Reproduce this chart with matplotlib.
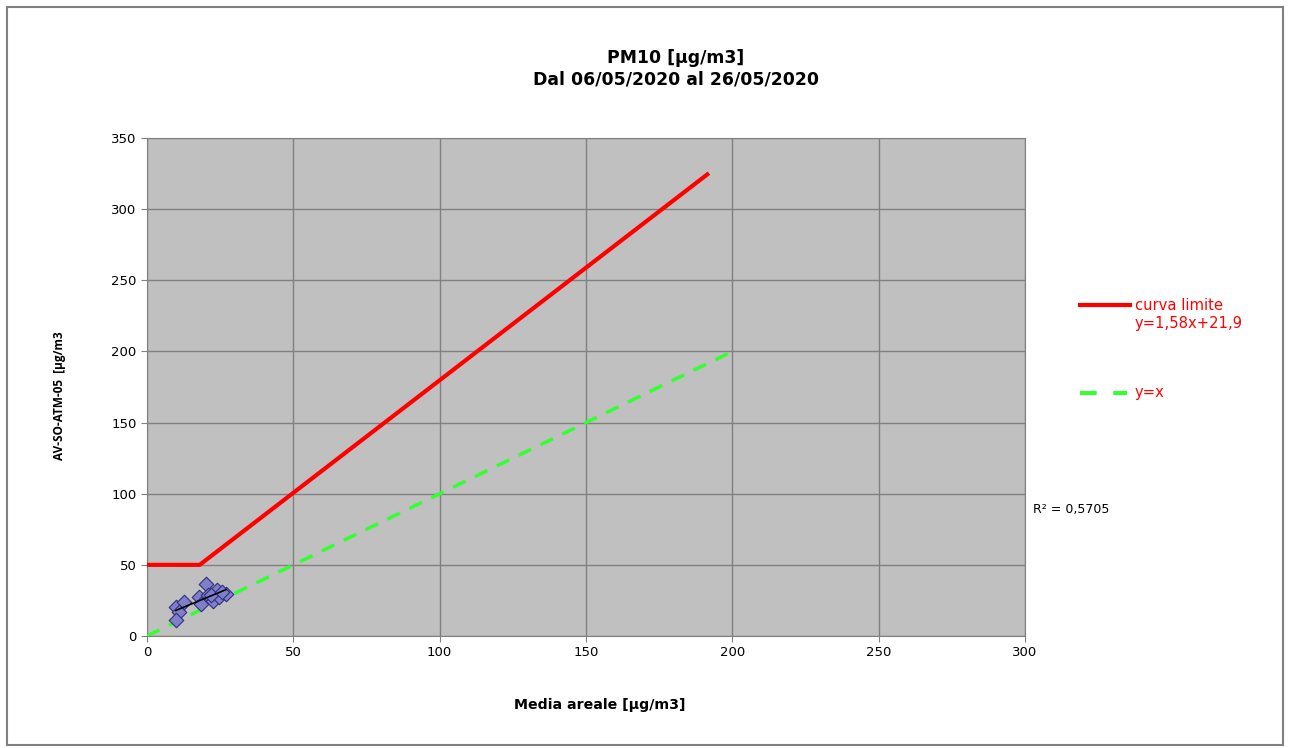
import numpy as np
import matplotlib
matplotlib.use("Agg")
import matplotlib.pyplot as plt
from matplotlib.patches import Rectangle
from matplotlib.lines import Line2D

plt.rcParams['font.family'] = ['DejaVu Sans']

# Data
media_areale = [20.2, 9.8, 12.8, 11.0, 9.8, 17.9, 18.3, 20.9, 24.0, 22.4, 24.7, 27.0, 22.0, 25.5]
av_so_atm05 = [36.3, 20.6, 23.7, 17.1, 11.0, 27.6, 22.3, 28.8, 32.3, 24.6, 27.2, 29.5, 29.0, 31.0]
limite_x = [0, 18, 192]
limite_y = [50, 50, 325.3]
yx_x = [0, 200]
yx_y = [0, 200]
r2_text = "R² = 0,5705"

fig = plt.figure(figsize=(12.9, 7.48), dpi=100)
W, H = 1290, 748
ax = fig.add_axes([147 / W, 1 - 636 / H, (1025 - 147) / W, (636 - 138) / H])
ax.set_facecolor('#C0C0C0')
ax.set_xlim(0, 300)
ax.set_ylim(0, 350)
ax.set_xticks(range(0, 301, 50))
ax.set_yticks(range(0, 351, 50))
ax.grid(True, color='#808080', linewidth=1)
ax.set_axisbelow(True)
for s in ax.spines.values():
    s.set_color('#808080')
ax.tick_params(axis='both', colors='#808080', labelcolor='black', labelsize=9.5, length=4)

ax.plot(yx_x, yx_y, color='#33FF33', linestyle=(0, (4, 3)), linewidth=2.5, zorder=3)
ax.plot(limite_x, limite_y, color='#FF0000', linewidth=3, zorder=4, solid_capstyle='butt')
ax.scatter(media_areale, av_so_atm05, marker='D', s=55, color='#8080C8', edgecolor='#303080',
           linewidth=0.8, zorder=5)
coef = np.polyfit(media_areale, av_so_atm05, 1)
xs = np.array([min(media_areale), max(media_areale)])
ax.plot(xs, np.polyval(coef, xs), color='black', linewidth=1.2, zorder=6)

fig.text(600 / W, 1 - 705 / H, 'Media areale [µg/m3]', ha='center', va='center',
         fontsize=10.2, fontweight='bold')
fig.text(60 / W, 1 - 396 / H, 'AV-SO-ATM-05  [µg/m3', ha='center', va='center',
         fontsize=8.5, fontweight='bold', rotation=90, family=['Open Sans', 'DejaVu Sans'])

fig.text(676 / W, 1 - 58 / H, 'PM10 [µg/m3]', ha='center', va='center', fontsize=12.4, fontweight='bold')
fig.text(676 / W, 1 - 79 / H, 'Dal 06/05/2020 al 26/05/2020', ha='center', va='center', fontsize=12.4, fontweight='bold')

# Legend (manual)
fig.add_artist(Line2D([1080 / W, 1130 / W], [1 - 305 / H, 1 - 305 / H], color='#FF0000', linewidth=3))
fig.text(1135 / W, 1 - 305 / H, 'curva limite', color='#FF0000', fontsize=10.6, va='center')
fig.text(1135 / W, 1 - 323 / H, 'y=1,58x+21,9', color='#FF0000', fontsize=10.6, va='center')
fig.add_artist(Line2D([1080 / W, 1127 / W], [1 - 393 / H, 1 - 393 / H], color='#33FF33',
                      linewidth=3, linestyle=(0, (4, 4))))
fig.text(1135 / W, 1 - 393 / H, 'y=x', color='#FF0000', fontsize=10.6, va='center')

fig.text(1033 / W, 1 - 510 / H, r2_text, color='black', fontsize=9, va='center')

# Outer border
fig.add_artist(Rectangle((7 / W, 1 - 745 / H), (1283 - 7) / W, (745 - 7) / H, transform=fig.transFigure,
                         fill=False, edgecolor='#808080', linewidth=1.5))

fig.savefig('out.png', dpi=100)
